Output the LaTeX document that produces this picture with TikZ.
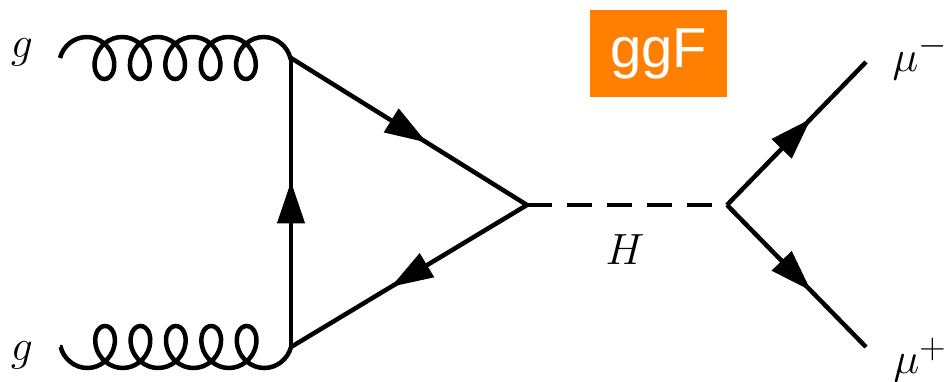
\documentclass[tikz,border=0pt]{standalone}
\usepackage{amsmath}
\usepackage{fontspec}
\usetikzlibrary{
  arrows.meta, positioning, decorations.pathmorphing, decorations.markings
}
\newfontfamily\tagfont{Liberation Sans}
\definecolor{ggforange}{HTML}{FF8000}

\begin{document}
\begin{tikzpicture}[
    x=0.02cm, y=-0.02cm,
    line width=0.09cm,
    fermion/.style={postaction={decorate}, decoration={markings, mark=at position 0.5 with {\arrow[xshift=0.42cm]{Triangle[length=0.84cm, width=0.54cm]}}}},
    gluon/.style={decorate, decoration={coil, amplitude=0.42cm, segment length=0.708cm, aspect=0.85}},
    scalar/.style={dash pattern=on 0.5cm off 0.3cm},
    lbl/.style={inner sep=0pt, font=\fontsize{28}{34}\selectfont},
    tag/.style={fill=ggforange, text=white, inner sep=0pt, minimum width=2.74cm, minimum height=1.74cm, font=\tagfont\fontsize{32}{38}\selectfont},
]
    \useasboundingbox (0, 0) rectangle (947, 382);

    % Vertices
    \coordinate (v1) at (291, 58);
    \coordinate (v2) at (291, 347);
    \coordinate (v3) at (527, 205);
    \coordinate (v4) at (727, 205);

    % External legs
    \coordinate (g1) at (60, 58);
    \coordinate (g2) at (60, 347);
    \coordinate (m1) at (866, 62);
    \coordinate (m2) at (866, 347);

    % Labels
    \node[lbl] (lg1) at (22, 52) {$g$};
    \node[lbl] (lg2) at (22, 355) {$g$};
    \node[lbl] (lm1) at (920, 57) {$\mu^-$};
    \node[lbl] (lm2) at (920, 360) {$\mu^+$};
    \node[lbl] (lH) at (625, 250) {$H$};
    \node[tag] (ggf) at (658.5, 53.5) {ggF};

    % Gluons
    \draw[gluon] (g1) -- (v1);
    \draw[gluon] (v2) -- (g2);

    % Quark loop
    \draw[fermion] (v1) -- (v3);
    \draw[fermion] (v3) -- (v2);
    \draw[fermion] (v2) -- (v1);

    % Higgs and muons
    \draw[scalar] (v3) -- (v4);
    \foreach \m in {m1, m2} {
        \draw[fermion] (v4) -- (\m);
    }

\end{tikzpicture}
\end{document}
